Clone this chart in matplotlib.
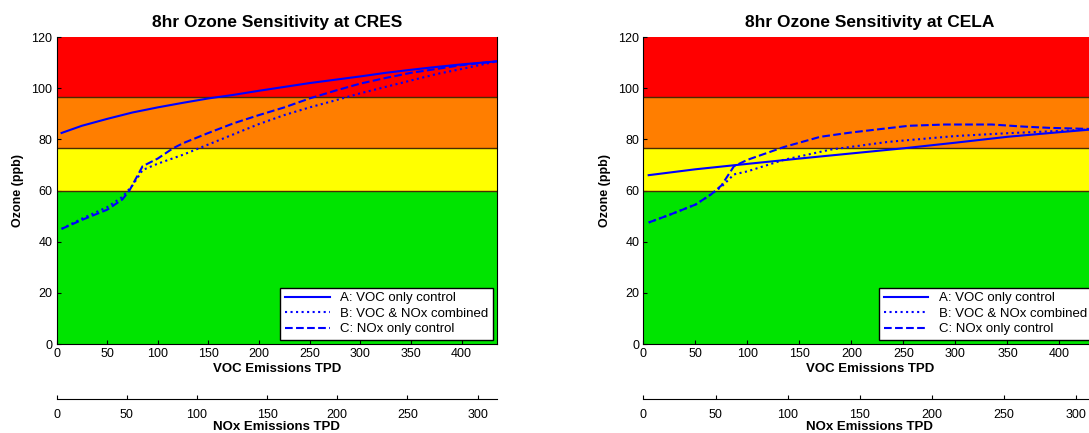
import matplotlib
matplotlib.use("Agg")
import matplotlib.pyplot as plt

plt.rcParams['font.family'] = ['Liberation Sans', 'DejaVu Sans']

# Limites de las bandas de calidad del aire (ppb) y sus colores
band_edges = [0, 60, 76.5, 96.5, 120]
band_colors = ['#00e400', '#ffff00', '#ff7e00', '#ff0000']

# CRES
cres_a_x = [5, 25, 50, 75, 100, 125, 150, 175, 200, 225, 250, 275, 300, 325, 350, 375, 400, 435]
cres_a_y = [82.5, 85.3, 88.0, 90.5, 92.5, 94.3, 96.0, 97.4, 99.0, 100.5, 102.0, 103.3, 104.6, 106.0, 107.2, 108.3, 109.3, 110.5]
cres_b_x = [5, 25, 50, 65, 75, 85, 100, 125, 150, 175, 200, 225, 250, 275, 300, 325, 350, 375, 400, 435]
cres_b_y = [45, 49, 53.5, 57.5, 62, 68, 70.5, 74, 78, 82, 86, 89.5, 92.5, 95.2, 98, 100.5, 103, 105.5, 107.5, 110.5]
cres_c_x = [5, 25, 50, 65, 72, 85, 100, 115, 125, 150, 175, 200, 225, 250, 275, 300, 325, 350, 375, 400, 435]
cres_c_y = [45, 48.5, 52.5, 56.5, 60, 69.5, 72.5, 76.5, 78.5, 82.5, 86.3, 89.5, 92.5, 96, 99, 101.8, 104, 106, 107.5, 109, 110.5]

# CELA
cela_a_x = [5, 50, 90, 150, 200, 250, 300, 350, 400, 435]
cela_a_y = [66, 68.3, 70, 72.5, 74.5, 76.5, 78.7, 81, 82.8, 84]
cela_b_x = [5, 25, 50, 65, 75, 87, 100, 135, 180, 235, 300, 350, 400, 435]
cela_b_y = [47.5, 50.5, 54.5, 58.5, 61.5, 66.3, 67.5, 72, 76, 79, 81.3, 82.4, 83.3, 84]
cela_c_x = [5, 25, 50, 65, 75, 87, 100, 135, 170, 200, 255, 290, 335, 365, 390, 435]
cela_c_y = [47.5, 50.5, 54.5, 58.5, 62, 69.5, 72, 77, 81, 82.7, 85.3, 85.8, 85.8, 85, 84.5, 84]

voc_max = 435
nox_max = 313.8
voc_ticks = [0, 50, 100, 150, 200, 250, 300, 350, 400]
nox_ticks = [0, 50, 100, 150, 200, 250, 300]
ozone_ticks = [0, 20, 40, 60, 80, 100, 120]

labels = ['A: VOC only control', 'B: VOC & NOx combined', 'C: NOx only control']

fig = plt.figure(figsize=(10.89, 4.33), dpi=100)


def panel(x0, w, title, ax_data):
    ax = fig.add_axes([x0, 0.2055, w, 0.709])
    for i in range(len(band_colors)):
        ax.axhspan(band_edges[i], band_edges[i + 1], color=band_colors[i], lw=0)
    for e in band_edges[1:-1]:
        ax.axhline(e, color='#4a2a00', lw=1.0)
    styles = ['-', ':', '--']
    for (x, y), ls, lab in zip(ax_data, styles, labels):
        ax.plot(x, y, color='#0000ff', ls=ls, lw=1.5, label=lab)
    ax.set_xlim(0, voc_max)
    ax.set_ylim(0, 120)
    ax.set_xticks(voc_ticks)
    ax.set_yticks(ozone_ticks)
    ax.tick_params(direction='in', length=3, labelsize=9, pad=3)
    ax.spines['top'].set_visible(False)
    ax.set_title(title, fontsize=12.5, fontweight='bold', pad=7)
    ax.set_xlabel('VOC Emissions TPD', fontsize=9.5, fontweight='bold', labelpad=2)
    ax.set_ylabel('Ozone (ppb)', fontsize=9, fontweight='bold', labelpad=5)
    leg = ax.legend(loc='lower right', fontsize=9.5, fancybox=False, framealpha=1,
                    edgecolor='black', handlelength=3.4, borderaxespad=0.3,
                    labelspacing=0.25, borderpad=0.35)
    leg.get_frame().set_linewidth(1.0)

    # eje secundario de NOx
    ax2 = fig.add_axes([x0, 0.078, w, 0.0001])
    ax2.set_xlim(0, nox_max)
    ax2.set_xticks(nox_ticks)
    ax2.set_yticks([])
    for s in ['top', 'left', 'right']:
        ax2.spines[s].set_visible(False)
    ax2.patch.set_alpha(0)
    ax2.tick_params(direction='in', length=3, labelsize=9, pad=7)
    ax2.set_xlabel('NOx Emissions TPD', fontsize=9.5, fontweight='bold', labelpad=0)
    return ax


panel(0.0519, 0.4045, '8hr Ozone Sensitivity at CRES',
      [(cres_a_x, cres_a_y), (cres_b_x, cres_b_y), (cres_c_x, cres_c_y)])
panel(0.5909, 0.4154, '8hr Ozone Sensitivity at CELA',
      [(cela_a_x, cela_a_y), (cela_b_x, cela_b_y), (cela_c_x, cela_c_y)])

fig.savefig('out.png', dpi=100)
